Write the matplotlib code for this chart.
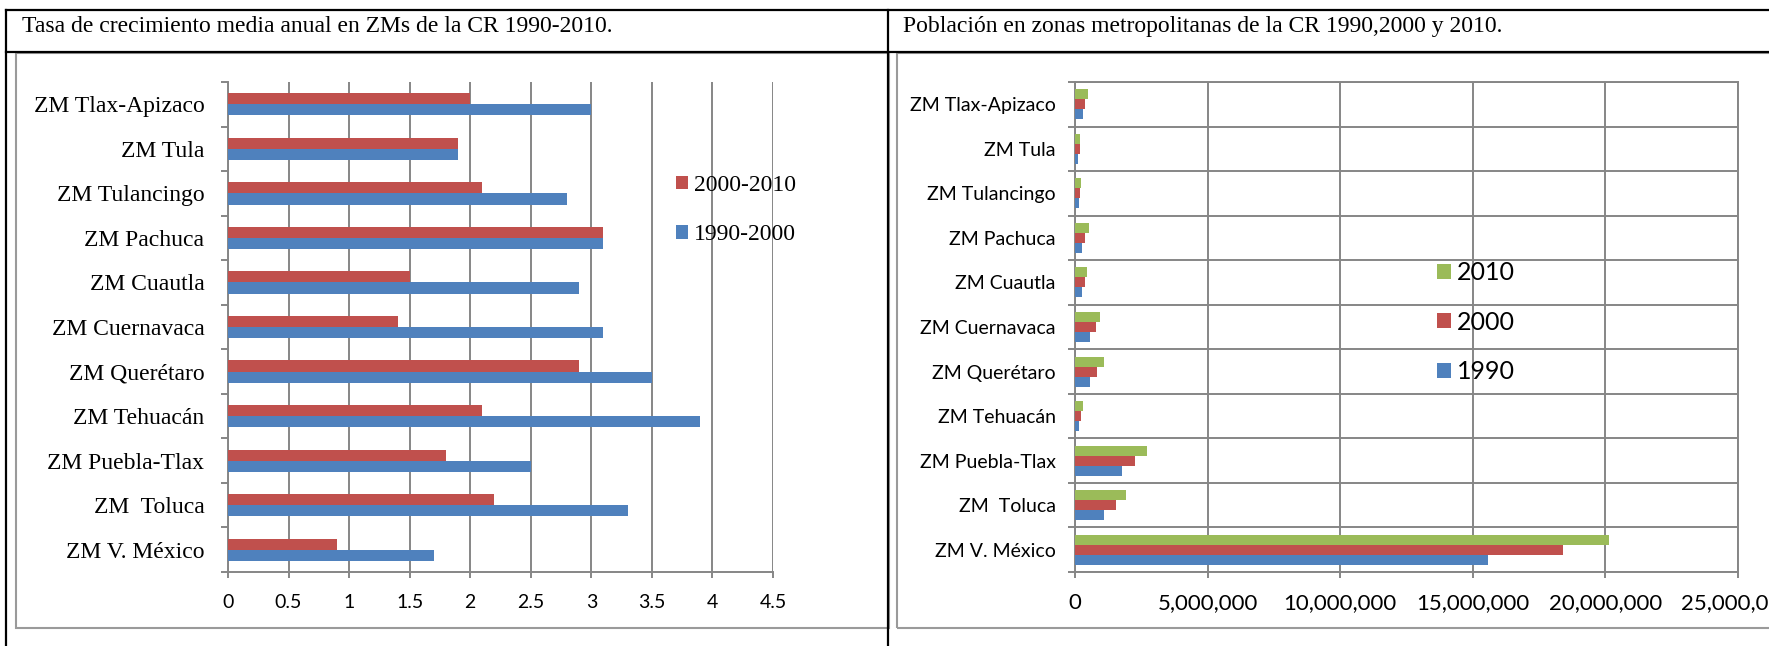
import numpy as np
import matplotlib.pyplot as plt
from matplotlib.patches import Rectangle
from matplotlib.lines import Line2D
from matplotlib.ticker import FuncFormatter

# Datos
zonas = ['ZM Tlax-Apizaco', 'ZM Tula', 'ZM Tulancingo', 'ZM Pachuca', 'ZM Cuautla',
         'ZM Cuernavaca', 'ZM Querétaro', 'ZM Tehuacán', 'ZM Puebla-Tlax',
         'ZM  Toluca', 'ZM V. México']

tasa_1990_2000 = [3.0, 1.9, 2.8, 3.1, 2.9, 3.1, 3.5, 3.9, 2.5, 3.3, 1.7]
tasa_2000_2010 = [2.0, 1.9, 2.1, 3.1, 1.5, 1.4, 2.9, 2.1, 1.8, 2.2, 0.9]

pob_1990 = [290000, 110000, 140000, 250000, 250000, 570000, 579000, 150000,
            1776000, 1110000, 15563000]
pob_2000 = [390000, 170000, 190000, 375000, 367000, 798000, 816000, 226000,
            2270000, 1540000, 18397000]
pob_2010 = [500000, 205000, 240000, 512000, 434000, 925000, 1097000, 297000,
            2729000, 1936000, 20117000]

titulo_izq = 'Tasa de crecimiento media anual en ZMs de la CR 1990-2010.'
titulo_der = 'Población en zonas metropolitanas de la CR 1990,2000 y 2010.'

AZUL = '#4F81BD'
ROJO = '#C0504D'
VERDE = '#9BBB59'
GRIS = '#868686'

W, H = 1769, 646
SERIF = 'Liberation Serif'
SANS = 'Lato'


def fx(px):
    return px / W


def fy(py):
    return 1 - py / H


fig = plt.figure(figsize=(W / 100, H / 100), dpi=100)

# Marcos de los gráficos
for x0, x1 in [(16, 889), (897, 1800)]:
    fig.add_artist(Rectangle((fx(x0), fy(628)), fx(x1 - x0), (628 - 53) / H,
                             fill=False, edgecolor='#9a9a9a', lw=1.5))

# Tabla (líneas negras)
lineas = [((6, 1769), (10, 10)), ((6, 1769), (52, 52)),
          ((6, 6), (10, 646)), ((888, 888), (10, 646))]
for (x0, x1), (y0, y1) in lineas:
    fig.add_artist(Line2D([fx(x0), fx(x1)], [fy(y0), fy(y1)], color='black', lw=1.6))

fig.text(fx(22), fy(32), titulo_izq, family=SERIF, fontsize=17, va='baseline')
fig.text(fx(903), fy(32), titulo_der, family=SERIF, fontsize=17, va='baseline')

y = np.arange(len(zonas))[::-1]
bordes = np.arange(-0.5, len(zonas), 1)

# Gráfico izquierdo: tasa de crecimiento
ax1 = fig.add_axes([fx(228), fy(572), fx(773 - 228), (572 - 82) / H])
ax1.barh(y - 0.125, tasa_1990_2000, height=0.25, color=AZUL, label='1990-2000', zorder=3)
ax1.barh(y + 0.125, tasa_2000_2010, height=0.25, color=ROJO, label='2000-2010', zorder=3)
ax1.set_xlim(0, 4.5)
ax1.set_ylim(-0.5, len(zonas) - 0.5)
ax1.set_xticks(np.arange(0, 4.51, 0.5))
ax1.xaxis.set_major_formatter(FuncFormatter(lambda v, p: f'{v:g}'))
ax1.set_yticks(y)
ax1.set_yticklabels(zonas, family=SERIF, fontsize=17)
ax1.set_yticks(bordes, minor=True)
ax1.grid(axis='x', color=GRIS, lw=1.4, zorder=0)
for s in ['top', 'right']:
    ax1.spines[s].set_visible(False)
for s in ['left', 'bottom']:
    ax1.spines[s].set_color(GRIS)
    ax1.spines[s].set_linewidth(1.4)
ax1.tick_params(axis='y', which='major', length=0, pad=17)
ax1.tick_params(axis='y', which='minor', length=5, width=1.4, color=GRIS)
ax1.tick_params(axis='x', length=4, width=1.4, color=GRIS, pad=12, labelsize=14)
for t in ax1.get_xticklabels():
    t.set_family(SANS)
h, l = ax1.get_legend_handles_labels()
ax1.legend(h[::-1], l[::-1], loc='upper left', bbox_to_anchor=(fx(676), fy(175)),
           bbox_transform=fig.transFigure, frameon=False, prop={'family': SERIF, 'size': 17},
           handlelength=0.5, handleheight=0.5, handletextpad=0.25, labelspacing=1.2,
           borderpad=0, borderaxespad=0)

# Gráfico derecho: población
ax2 = fig.add_axes([fx(1075), fy(572), fx(1738 - 1075), (572 - 82) / H])
ax2.barh(y - 0.225, pob_1990, height=0.225, color=AZUL, label='1990', zorder=3)
ax2.barh(y, pob_2000, height=0.225, color=ROJO, label='2000', zorder=3)
ax2.barh(y + 0.225, pob_2010, height=0.225, color=VERDE, label='2010', zorder=3)
ax2.set_xlim(0, 25000000)
ax2.set_ylim(-0.5, len(zonas) - 0.5)
ax2.set_xticks(np.arange(0, 25000001, 5000000))
ax2.xaxis.set_major_formatter(FuncFormatter(lambda v, p: f'{v:,.0f}'))
ax2.set_yticks(y)
ax2.set_yticklabels(zonas, family=SANS, fontsize=14)
ax2.set_yticks(bordes, minor=True)
ax2.grid(axis='x', color=GRIS, lw=1.4, zorder=0)
ax2.grid(axis='y', which='minor', color=GRIS, lw=1.4, zorder=0)
for s in ax2.spines.values():
    s.set_color(GRIS)
    s.set_linewidth(1.4)
ax2.tick_params(axis='y', which='major', length=0, pad=14)
ax2.tick_params(axis='y', which='minor', length=5, width=1.4, color=GRIS)
ax2.tick_params(axis='x', length=4, width=1.4, color=GRIS, pad=11, labelsize=16)
for t in ax2.get_xticklabels():
    t.set_family(SANS)
h, l = ax2.get_legend_handles_labels()
ax2.legend(h[::-1], l[::-1], loc='upper left', bbox_to_anchor=(fx(1437), fy(261)),
           bbox_transform=fig.transFigure, frameon=False, prop={'family': SANS, 'size': 18},
           handlelength=0.55, handleheight=0.55, handletextpad=0.25, labelspacing=1.06,
           borderpad=0, borderaxespad=0)

fig.savefig('out.png', dpi=100)
